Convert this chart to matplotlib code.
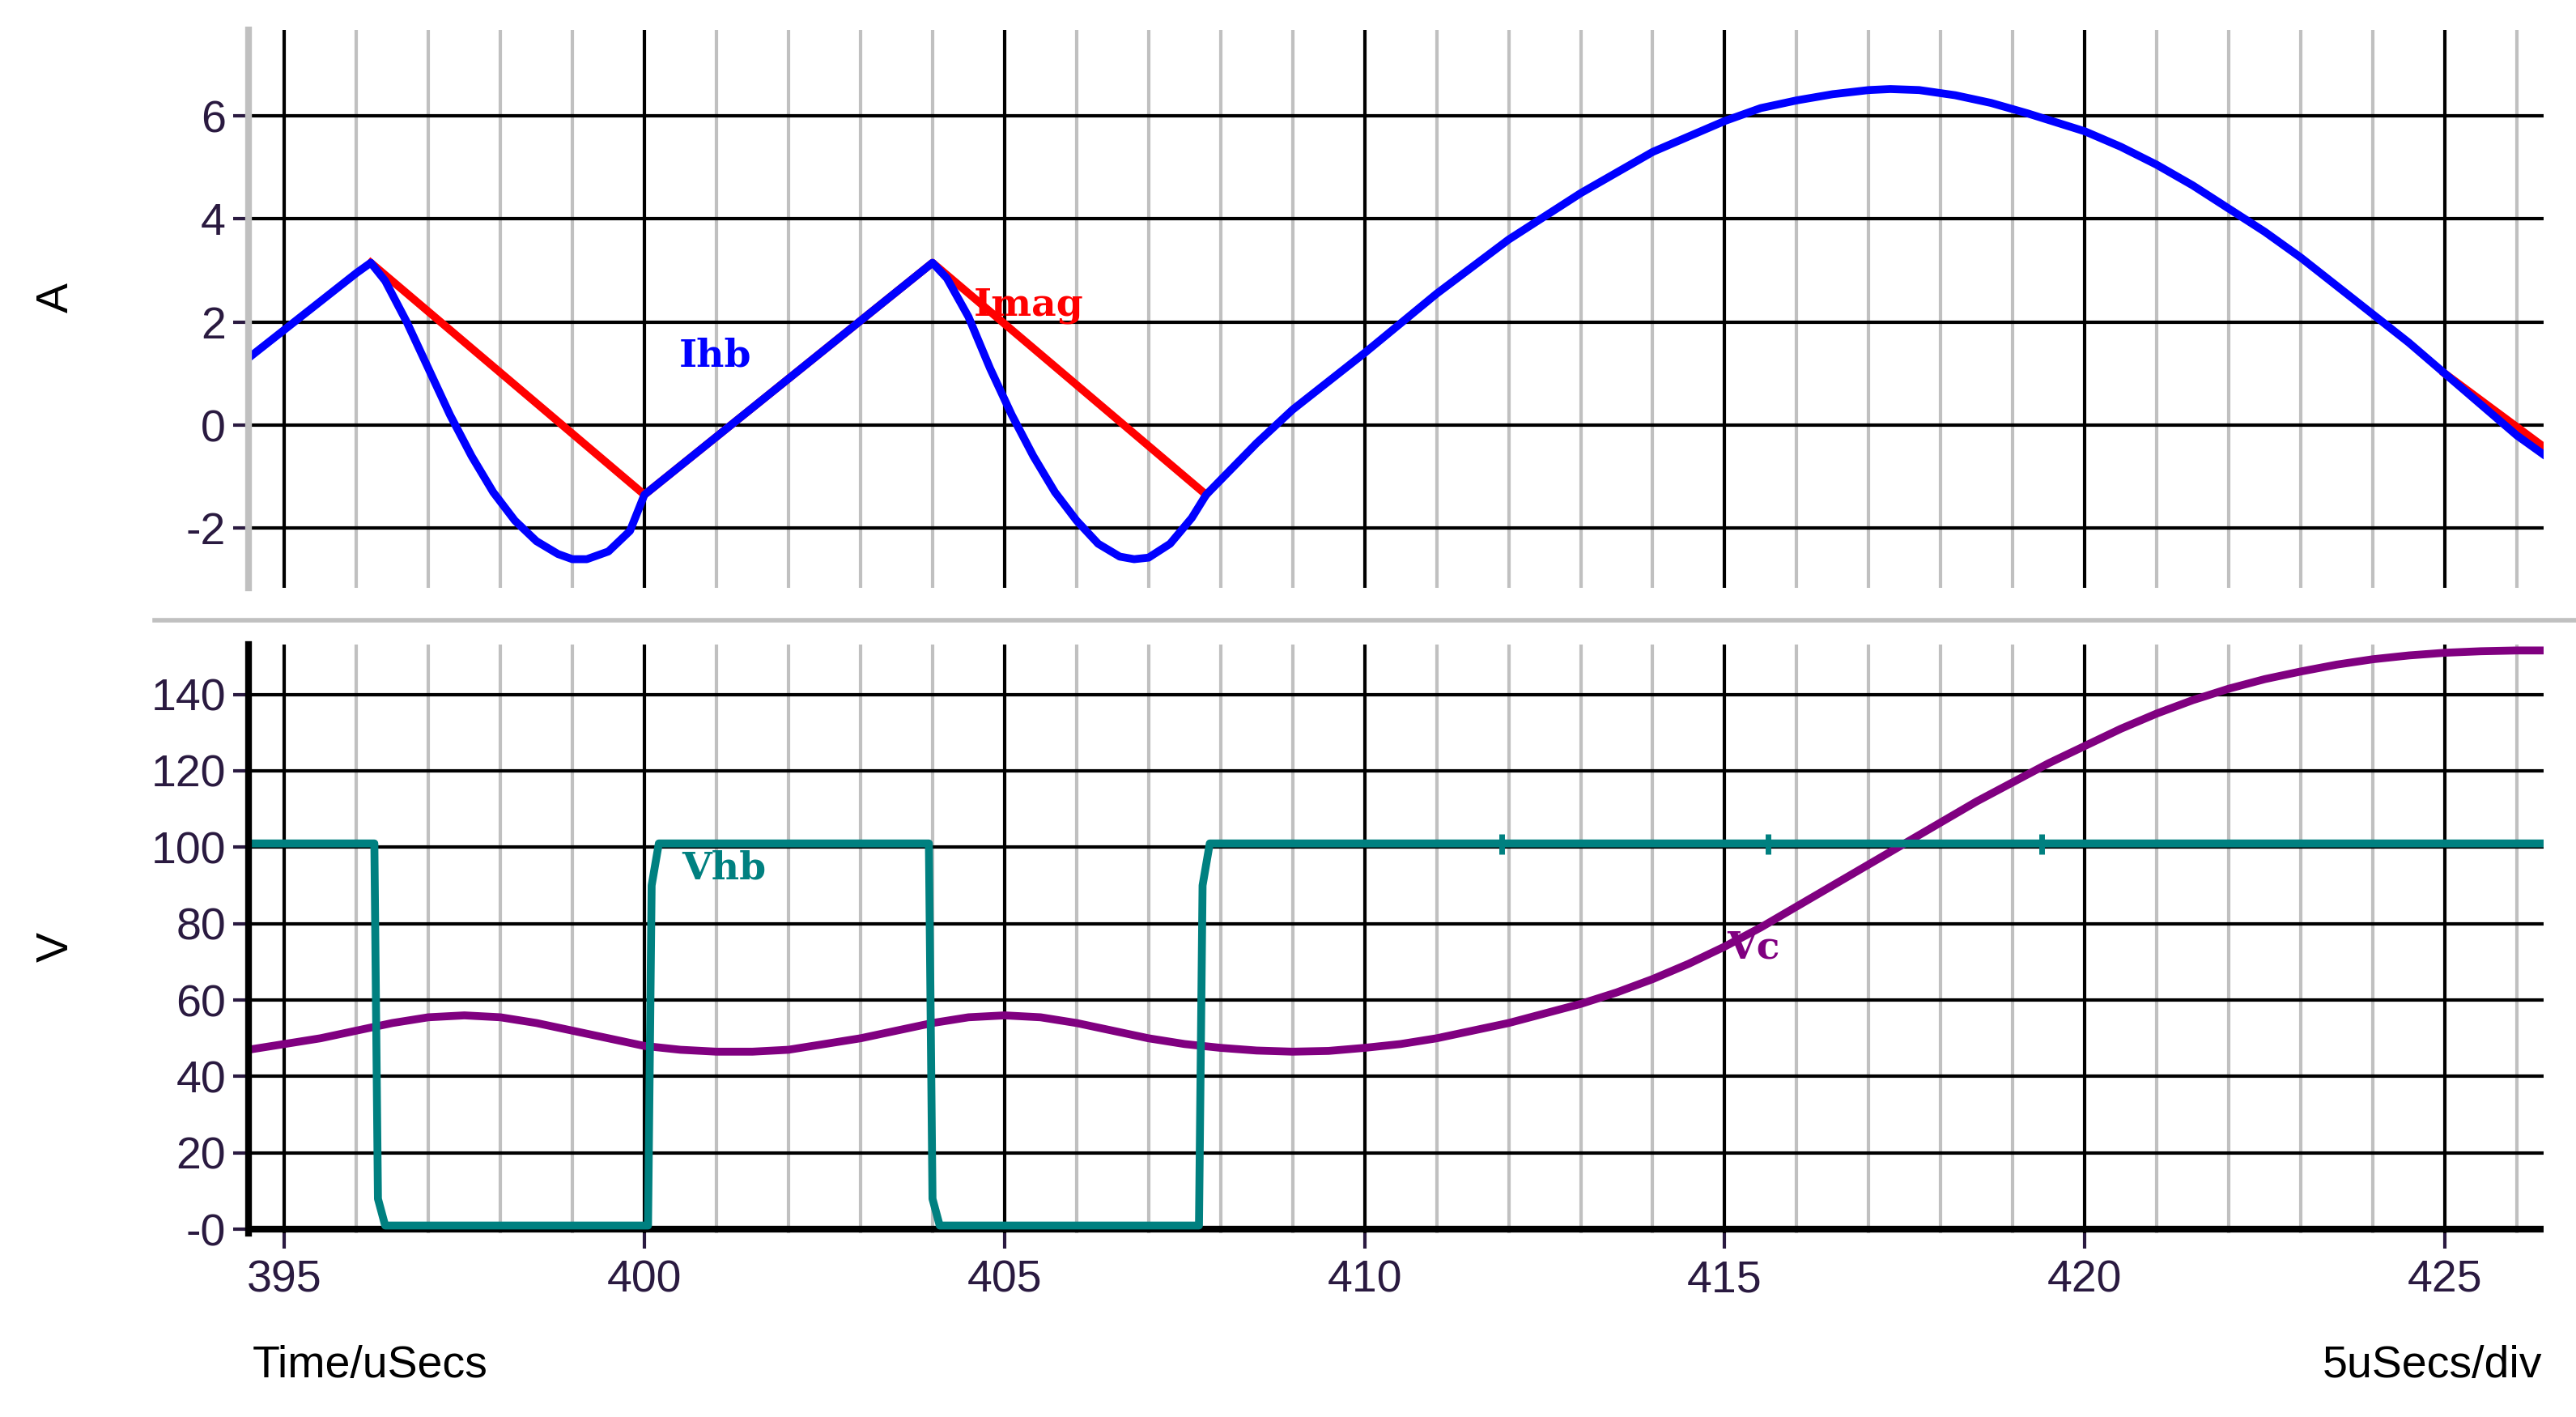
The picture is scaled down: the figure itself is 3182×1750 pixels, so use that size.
import matplotlib
matplotlib.use('Agg')
import matplotlib.pyplot as plt
from matplotlib.ticker import MultipleLocator, FixedLocator

plt.rcParams['axes.unicode_minus'] = False
plt.rcParams['font.family'] = ['Liberation Sans', 'DejaVu Sans']

# time points (us) and values
t_ihb = [394.5, 395.0, 395.5, 396.0, 396.2, 396.4, 396.7, 397.0, 397.3, 397.6, 397.9, 398.2,
         398.5, 398.8, 399.0, 399.2, 399.5, 399.8, 400.0, 401.0, 402.0, 403.0, 404.0,
         404.2, 404.5, 404.8, 405.1, 405.4, 405.7, 406.0, 406.3, 406.6, 406.8, 407.0, 407.3,
         407.6, 407.8, 408.5, 409.0, 410.0, 411.0, 412.0, 413.0, 414.0, 415.0, 415.5, 416.0,
         416.5, 417.0, 417.3, 417.7, 418.2, 418.7, 419.2, 420.0, 420.5, 421.0, 421.5, 422.0,
         422.5, 423.0, 423.5, 424.0, 424.5, 425.0, 425.5, 426.0, 426.4]
ihb = [1.3, 1.85, 2.4, 2.95, 3.15, 2.8, 2.0, 1.1, 0.2, -0.6, -1.3, -1.85,
       -2.25, -2.5, -2.6, -2.6, -2.45, -2.05, -1.35, -0.225, 0.9, 2.025, 3.15,
       2.85, 2.1, 1.1, 0.2, -0.6, -1.3, -1.85, -2.3, -2.55, -2.6, -2.57, -2.3,
       -1.8, -1.35, -0.35, 0.3, 1.4, 2.55, 3.6, 4.5, 5.3, 5.9, 6.15, 6.3,
       6.42, 6.5, 6.52, 6.5, 6.4, 6.25, 6.05, 5.7, 5.4, 5.05, 4.65, 4.2,
       3.75, 3.25, 2.7, 2.15, 1.6, 1.0, 0.4, -0.2, -0.6]

t_imag = [396.2, 400.0, 404.0, 407.8]
imag = [3.15, -1.35, 3.15, -1.35]
t_imag_end = [425.0, 426.4]
imag_end = [1.0, -0.45]

t_vhb = [394.5, 396.25, 396.3, 396.4, 400.05, 400.1, 400.2, 403.95, 404.0, 404.1,
         407.7, 407.75, 407.85, 426.4]
vhb = [101, 101, 8, 1, 1, 90, 101, 101, 8, 1,
       1, 90, 101, 101]
t_vhb_blips = [411.9, 415.6, 419.4]
vhb_blips = [101, 101, 101]

t_vc = [394.5, 395.0, 395.5, 396.0, 396.5, 397.0, 397.5, 398.0, 398.5, 399.0, 399.5, 400.0,
        400.5, 401.0, 401.5, 402.0, 402.5, 403.0, 403.5, 404.0, 404.5, 405.0, 405.5, 406.0,
        406.5, 407.0, 407.5, 408.0, 408.5, 409.0, 409.5, 410.0, 410.5, 411.0, 411.5, 412.0,
        412.5, 413.0, 413.5, 414.0, 414.5, 415.0, 415.5, 416.0, 416.5, 417.0, 417.5, 418.0,
        418.5, 419.0, 419.5, 420.0, 420.5, 421.0, 421.5, 422.0, 422.5, 423.0, 423.5, 424.0,
        424.5, 425.0, 425.5, 426.0, 426.4]
vc = [47, 48.5, 50, 52, 54, 55.5, 56, 55.5, 54, 52, 50, 48,
      47, 46.5, 46.5, 47, 48.5, 50, 52, 54, 55.5, 56, 55.5, 54,
      52, 50, 48.5, 47.5, 46.8, 46.5, 46.7, 47.5, 48.5, 50, 52, 54,
      56.5, 59, 62, 65.5, 69.5, 74, 79, 84.5, 90, 95.5, 101, 106.5,
      112, 117, 122, 126.5, 131, 135, 138.5, 141.5, 144, 146, 147.8, 149.2,
      150.2, 150.9, 151.3, 151.5, 151.5]

xmin, xmax = 394.5, 426.37
fs = 40
lw = 7
blue, red, teal, purple = '#0000ff', '#ff0000', '#008080', '#800080'

fig = plt.figure(figsize=(31.82, 17.5), dpi=100)
ax1 = fig.add_axes([0.0964, 0.585, 0.891, 0.394])
ax2 = fig.add_axes([0.0964, 0.130, 0.891, 0.415])

for ax in (ax1, ax2):
    ax.set_xlim(xmin, xmax)
    ax.xaxis.set_major_locator(MultipleLocator(5))
    ax.xaxis.set_minor_locator(MultipleLocator(1))
    ax.grid(which='minor', axis='x', color='#c0c0c0', lw=3)
    ax.grid(which='major', axis='both', color='black', lw=3)
    ax.set_axisbelow(True)
    for s in ('top', 'right', 'bottom'):
        ax.spines[s].set_visible(False)
    ax.spines['left'].set_linewidth(6)
    ax.tick_params(which='both', length=0, labelsize=fs, colors='#2a1a40')
    ax.tick_params(axis='y', length=14, width=3, pad=6)

ax1.spines['left'].set_color('#c0c0c0')
ax1.set_ylim(-3.16, 7.67)
ax1.yaxis.set_major_locator(FixedLocator([-2, 0, 2, 4, 6]))
ax1.set_xticklabels([])
ax1.plot(t_imag, imag, color=red, lw=lw)
ax1.plot(t_imag_end, imag_end, color=red, lw=lw)
ax1.plot(t_ihb, ihb, color=blue, lw=lw)
lab = dict(fontsize=34, family='serif', weight='bold', ha='center', va='center')
ax1.text(400.98, 1.34, 'Ihb', color=blue, **lab)
ax1.text(405.34, 2.33, 'Imag', color=red, **lab)

ax2.set_ylim(-0.9, 153)
ax2.yaxis.set_major_locator(FixedLocator(range(0, 141, 20)))
ax2.set_yticklabels(['-0'] + [str(v) for v in range(20, 141, 20)])
ax2.axhline(0, color='black', lw=6, zorder=1)
ax2.tick_params(axis='x', which='major', length=14, width=3, pad=10)
ax2.plot(t_vc, vc, color=purple, lw=lw)
ax2.plot(t_vhb, vhb, color=teal, lw=lw)
ax2.plot(t_vhb_blips, vhb_blips, ls='none', marker='|', ms=18, mew=5, color=teal)
ax2.text(401.1, 94.5, 'Vhb', color=teal, **lab)
ax2.text(415.4, 73.7, 'Vc', color=purple, **lab)

fig.add_artist(plt.Line2D([0.06, 1.0], [0.562, 0.562], color='#c0c0c0', lw=4))
fig.text(0.022, 0.79, 'A', fontsize=fs, rotation=90, ha='center', va='center')
fig.text(0.022, 0.332, 'V', fontsize=fs, rotation=90, ha='center', va='center')
fig.text(0.098, 0.036, 'Time/uSecs', fontsize=fs, ha='left', va='center')
fig.text(0.987, 0.036, '5uSecs/div', fontsize=fs, ha='right', va='center')

fig.savefig('out.png', dpi=100, facecolor='white')
